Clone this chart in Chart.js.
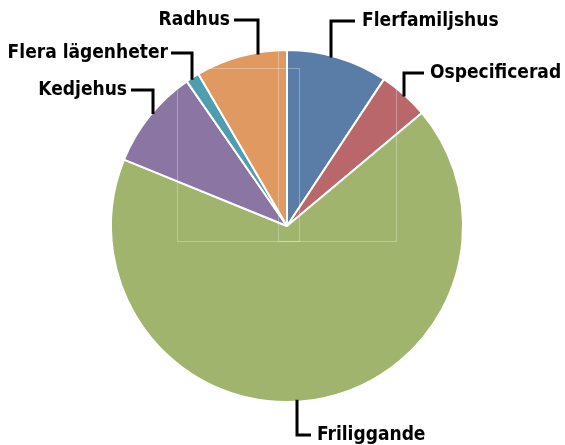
<!DOCTYPE html>
<html>
<head>
<meta charset="utf-8">
<script src="https://cdn.jsdelivr.net/npm/chart.js@4/dist/chart.umd.min.js"></script>
<style>
  html, body { margin: 0; padding: 0; background: #fff; }
  #wrap { width: 565px; height: 445px; }
</style>
</head>
<body>
<div id="wrap"><canvas id="pieChart" width="565" height="445"></canvas></div>
<script>
// values (percent shares), clockwise from 12 o'clock
const categories = ["Flerfamiljshus", "Ospecificerad", "Friliggande", "Kedjehus", "Flera lägenheter", "Radhus"];
const shares = [9.3, 4.6, 67.3, 9.2, 1.25, 8.4];
const sliceColors = ["#5A7DA8", "#B9676A", "#A0B46E", "#8A75A3", "#4E9EB0", "#E09A61"];

// where each label sits and where its leader line bends
const labelSpots = [
    { x: 362, y: 21, align: "left",  bend: [331, 21], textEnd: [355, 21] },
    { x: 430, y: 73, align: "left",  bend: [404, 73], textEnd: [424, 73] },
    { x: 317, y: 435, align: "left", bend: [297, 435], textEnd: [311, 435] },
    { x: 127, y: 90, align: "right", bend: [153, 90], textEnd: [131, 90] },
    { x: 168, y: 53, align: "right", bend: [192, 53], textEnd: [171, 53] },
    { x: 230, y: 20, align: "right", bend: [258, 20], textEnd: [234, 20] }
];

const ghostBoxes = [
    [177, 68, 299, 241],
    [278, 40, 396, 241]
];

const ghostPlugin = {
    id: "ghost",
    afterDatasetsDraw(chart) {
        const ctx = chart.ctx;
        ctx.save();
        ctx.strokeStyle = "rgba(255,255,255,0.3)";
        ctx.lineWidth = 1;
        ghostBoxes.forEach(b => {
            ctx.strokeRect(b[0] + 0.5, b[1] + 0.5, b[2] - b[0], b[3] - b[1]);
        });
        ctx.restore();
    }
};

const labelPlugin = {
    id: "leaderLabels",
    afterDraw(chart) {
        const ctx = chart.ctx;
        const arcs = chart.getDatasetMeta(0).data;
        const cx = arcs[0].x, cy = arcs[0].y, r = arcs[0].outerRadius;
        ctx.save();
        ctx.font = "bold 19px 'Liberation Sans Narrow', 'DejaVu Sans Condensed', sans-serif";
        ctx.textBaseline = "middle";
        ctx.fillStyle = "#000";
        ctx.strokeStyle = "#000";
        ctx.lineWidth = 3;
        labelSpots.forEach((spot, i) => {
            const bx = spot.bend[0], by = spot.bend[1];
            const dx = bx - cx;
            const h = Math.sqrt(Math.max(r * r - dx * dx, 0));
            const edgeY = by < cy ? cy - h + 2 : cy + h - 2;
            ctx.beginPath();
            ctx.moveTo(bx, edgeY);
            ctx.lineTo(bx, by);
            ctx.lineTo(spot.textEnd[0], spot.textEnd[1]);
            ctx.stroke();
            ctx.textAlign = spot.align;
            ctx.fillText(categories[i], spot.x, spot.y);
        });
        ctx.restore();
    }
};

new Chart(document.getElementById("pieChart"), {
    type: "pie",
    data: {
        labels: categories,
        datasets: [{
            data: shares,
            backgroundColor: sliceColors,
            borderColor: "#fff",
            borderWidth: 2
        }]
    },
    options: {
        responsive: false,
        animation: false,
        layout: { padding: { top: 49, bottom: 42, left: 110, right: 101 } },
        plugins: {
            legend: { display: false },
            tooltip: { enabled: false }
        }
    },
    plugins: [ghostPlugin, labelPlugin]
});
</script>
</body>
</html>
